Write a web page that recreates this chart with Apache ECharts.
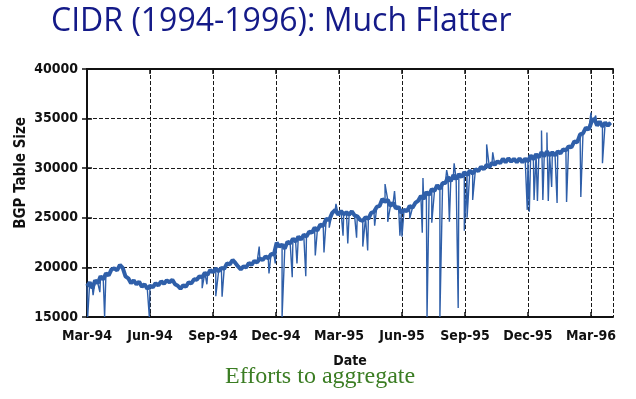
<!DOCTYPE html>
<html>
<head>
<meta charset="utf-8">
<script src="https://cdn.jsdelivr.net/npm/echarts@6/dist/echarts.min.js"></script>
<style>
  html, body { margin: 0; padding: 0; background: #fff; }
  #main { width: 636px; height: 399px; }
</style>
</head>
<body>
<div id="main"></div>
<script>
// sampled BGP table size, one reading every 4 days from 1 Mar 1994
var startDate = '1994-03-01';
var sampleStep = 4;
var tableSize = [
  18100, 18500, 17900, 18700, 18400, 19100, 18800, 19400, 19200, 19800,
  19900, 19700, 20250, 19950, 19100, 18900, 18400, 18700, 18300, 18550,
  18050, 18300, 17850, 18150, 18000, 18400, 18200, 18600, 18350, 18700,
  18500, 18750, 18300, 18150, 17850, 18200, 18050, 18500, 18400, 18800,
  18750, 19100, 19000, 19450, 19250, 19750, 19500, 19900, 19600, 19950,
  19850, 20400, 20300, 20750, 20450, 20100, 19800, 20100, 20000, 20450,
  20250, 20650, 20500, 20900, 20750, 21100, 20900, 21350, 21300, 22500,
  22100, 22300, 21900, 22600, 22400, 22900, 22600, 23100, 22800, 23300,
  23100, 23600, 23500, 24000, 23700, 24300, 24200, 24900, 24800, 25500,
  25800, 25300, 25700, 25350, 25550, 25300, 25650, 25250, 25150, 24800,
  24700, 25050, 24900, 25500, 25600, 26100, 26200, 26900, 26600, 26800,
  26200, 26500, 25950, 26100, 25500, 25800, 25650, 26200, 26000, 26500,
  26700, 27200, 26900, 27600, 27300, 27900, 27700, 28300, 27900, 28500,
  28500, 29100, 28700, 29300, 28900, 29400, 29100, 29600, 29300, 29750,
  29450, 29900, 29700, 30150, 29900, 30350, 30100, 30550, 30350, 30700,
  30500, 30950, 30600, 31000, 30650, 30950, 30600, 31000, 30600, 30950,
  30700, 31300, 30900, 31400, 31100, 31600, 31200, 31700, 31300, 31600,
  31300, 31700, 31500, 31900, 31800, 32200, 32100, 32700, 32600, 33400,
  33500, 34100, 33900, 34700, 35000, 34300, 34700, 34200, 34600, 34300,
  34600
];

// single-day outliers (day number since 1 Mar 1994, table size)
var spikeDays = [
  1, 9, 19, 26, 91, 168, 175, 188, 197, 251, 265, 274, 284, 299, 306, 319,
  333, 345, 352, 361, 371, 378, 391, 400, 407, 417, 432, 436, 446, 454, 457,
  468, 486, 487, 493, 500, 512, 522, 526, 533, 539, 548, 552, 560, 580, 589,
  639, 642, 649, 654, 660, 662, 668, 670, 675, 683, 697, 717, 731, 738, 748
];
var spikeSizes = [
  15000, 17200, 17500, 15000, 15000, 17900, 18300, 17100, 17050, 22100, 19400, 20400, 15000, 19000, 20400, 19100,
  21200, 21500, 24000, 26400, 23200, 22400, 23000, 22100, 21700, 24200, 28400, 24600, 27700, 23200, 23100,
  24900, 23500, 29000, 15000, 24500, 15000, 29800, 24600, 30500, 15900, 23700, 25000, 26800, 32400, 31600,
  25800, 25600, 26800, 26700, 33800, 26800, 33600, 26700, 28100, 26500, 26600, 27100, 35600, 35300, 30500
];

var tickLabels = ['Mar-94', 'Jun-94', 'Sep-94', 'Dec-94', 'Mar-95', 'Jun-95', 'Sep-95', 'Dec-95', 'Mar-96'];
var sizeTicks = [15000, 20000, 25000, 30000, 35000, 40000];

// day number -> months since Mar 1994 (fractional)
function dayToMonth(d) {
  var p = startDate.split('-');
  var dt = new Date(Date.UTC(+p[0], +p[1] - 1, +p[2] + d));
  var y = dt.getUTCFullYear(), m = dt.getUTCMonth(), dd = dt.getUTCDate();
  var dim = new Date(Date.UTC(y, m + 1, 0)).getUTCDate();
  return (y - 1994) * 12 + (m - 2) + (dd - 1) / dim;
}

var points = [];
tableSize.forEach(function (v, i) { points.push([i * sampleStep, v, 0]); });
spikeDays.forEach(function (d, i) { points.push([d, spikeSizes[i], 1]); });
points.sort(function (a, b) { return a[0] - b[0] || a[2] - b[2]; });
var fullData = points.map(function (p) { return [dayToMonth(p[0]), p[1]]; });
var baseData = tableSize.map(function (v, i) { return [dayToMonth(i * sampleStep), v]; });

var axisFont = "'Liberation Sans Narrow', 'DejaVu Sans Condensed', sans-serif";
var lineColor = '#2f5fa9';

var myChart = echarts.init(document.getElementById('main'));
var option = {
    animation: false,
    backgroundColor: '#fff',
    title: {
        text: 'CIDR (1994-1996): Much Flatter',
        left: 46,
        top: 1,
        textStyle: {
            color: '#141a88',
            fontSize: 32,
            fontWeight: 'normal',
            fontFamily: "'Open Sans', sans-serif"
        }
    },
    grid: { left: 87, right: 23, top: 69, bottom: 82 },
    xAxis: [
        {
            type: 'value',
            min: 0,
            max: 25.05,
            interval: 3,
            name: 'Date',
            nameLocation: 'middle',
            nameGap: 37,
            nameTextStyle: { color: '#111', fontSize: 14, fontWeight: 'bold', fontFamily: axisFont },
            axisLine: { lineStyle: { color: '#111', width: 2 } },
            axisTick: { inside: true, length: 5, lineStyle: { color: '#111', width: 1.5 } },
            axisLabel: {
                color: '#111', fontSize: 14, fontWeight: 'bold', fontFamily: axisFont, margin: 12,
                showMaxLabel: false,
                formatter: function (v) {
                    var k = v / 3;
                    return Math.abs(k - Math.round(k)) < 1e-6 ? (tickLabels[Math.round(k)] || '') : '';
                }
            },
            splitLine: { show: true, lineStyle: { color: '#1a1a1a', type: [4, 2], width: 1 } }
        },
        {
            type: 'value',
            position: 'top',
            min: 0,
            max: 25.05,
            interval: 3,
            axisLine: { lineStyle: { color: '#111', width: 2 } },
            axisTick: { inside: true, length: 5, lineStyle: { color: '#111', width: 1.5 } },
            axisLabel: { show: false },
            splitLine: { show: false }
        }
    ],
    yAxis: [
        {
            type: 'value',
            min: sizeTicks[0],
            max: sizeTicks[sizeTicks.length - 1],
            interval: 5000,
            axisLine: { show: true, lineStyle: { color: '#111', width: 2 } },
            axisTick: { show: true, inside: true, length: 5, lineStyle: { color: '#111', width: 1.5 } },
            axisLabel: {
                color: '#111', fontSize: 14, fontWeight: 'bold', fontFamily: axisFont, margin: 9,
                formatter: function (v) { return String(v); }
            },
            splitLine: { show: true, lineStyle: { color: '#1a1a1a', type: [4, 2], width: 1 } }
        },
        {
            type: 'value',
            position: 'right',
            min: sizeTicks[0],
            max: sizeTicks[sizeTicks.length - 1],
            interval: 5000,
            axisLine: { show: true, lineStyle: { color: '#111', width: 2 } },
            axisTick: { show: true, inside: true, length: 5, lineStyle: { color: '#111', width: 1.5 } },
            axisLabel: { show: false },
            splitLine: { show: false }
        }
    ],
    graphic: [
        {
            type: 'text',
            left: 14,
            top: 117,
            rotation: Math.PI / 2,
            style: {
                text: 'BGP Table Size',
                fill: '#111',
                fontSize: 15,
                fontWeight: 'bold',
                fontFamily: axisFont
            }
        },
        {
            type: 'text',
            left: 225,
            top: 365,
            style: {
                text: 'Efforts to aggregate',
                fill: '#3b7d23',
                fontSize: 24,
                fontFamily: "'Liberation Serif', serif"
            }
        }
    ],
    series: [
        {
            name: 'BGP Table Size',
            type: 'line',
            showSymbol: false,
            lineStyle: { color: lineColor, width: 1.4 },
            data: fullData
        },
        {
            name: 'BGP Table Size (trend)',
            type: 'line',
            showSymbol: false,
            lineStyle: { color: lineColor, width: 4 },
            data: baseData
        }
    ]
};
myChart.setOption(option);
</script>
</body>
</html>
